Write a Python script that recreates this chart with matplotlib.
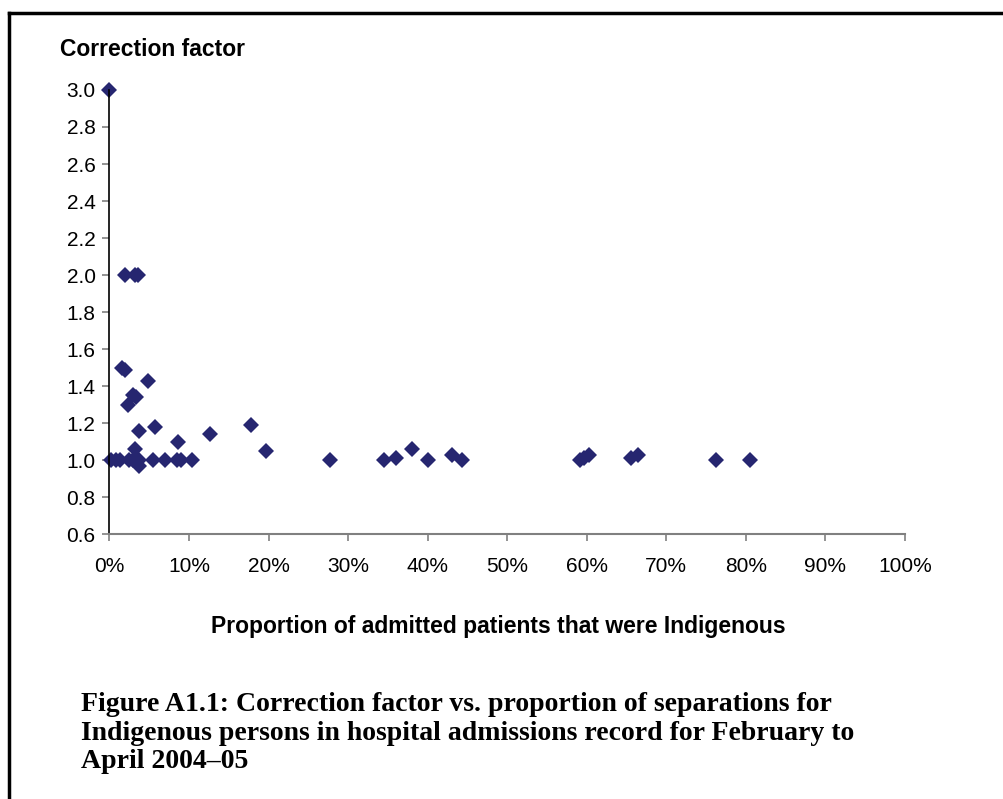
import matplotlib.pyplot as plt
from matplotlib.lines import Line2D
from matplotlib.ticker import FuncFormatter

# proportion of admitted patients that were Indigenous (%)
prop_pct = [0.0, 1.9, 3.2, 3.6, 1.6, 2.0, 4.9, 2.3, 2.9, 3.4, 3.7, 5.7, 8.6, 12.6,
            17.8, 19.7, 3.2, 3.7,
            0.2, 0.8, 1.3, 2.4, 2.9, 3.3, 3.7, 5.5, 7.0, 8.5, 9.0, 10.4,
            27.7, 34.5, 36.0, 38.0, 40.0, 43.0, 44.3, 59.2, 59.7, 60.3,
            65.6, 66.5, 76.3, 80.5]
# correction factor
factor = [3.0, 2.0, 2.0, 2.0, 1.5, 1.49, 1.43, 1.30, 1.35, 1.34, 1.16, 1.18, 1.10, 1.14,
          1.19, 1.05, 1.06, 0.97,
          1.0, 1.0, 1.0, 1.0, 1.0, 1.0, 1.0, 1.0, 1.0, 1.0, 1.0, 1.0,
          1.0, 1.0, 1.01, 1.06, 1.0, 1.03, 1.0, 1.0, 1.01, 1.03,
          1.01, 1.03, 1.0, 1.0]

yticks = [0.6, 0.8, 1.0, 1.2, 1.4, 1.6, 1.8, 2.0, 2.2, 2.4, 2.6, 2.8, 3.0]
xticks = [0, 10, 20, 30, 40, 50, 60, 70, 80, 90, 100]

plt.rcParams['font.family'] = ['Liberation Sans', 'DejaVu Sans']

fig = plt.figure(figsize=(10.04, 7.99), dpi=100)
ax = fig.add_axes([0.109, 0.3313, 0.7924, 0.5561])

ax.plot(prop_pct, factor, linestyle='none', marker='D', markersize=7.8,
        color='#262670', markeredgewidth=0, clip_on=False)

ax.set_xlim(0, 100)
ax.set_ylim(0.6, 3.0)
ax.set_xticks(xticks)
ax.set_yticks(yticks)
ax.xaxis.set_major_formatter(FuncFormatter(lambda v, p: '%d%%' % v))
ax.yaxis.set_major_formatter(FuncFormatter(lambda v, p: '%.1f' % v))

for s in ['top', 'right']:
    ax.spines[s].set_visible(False)
ax.spines['left'].set_color('black')
ax.spines['left'].set_linewidth(1.2)
ax.spines['bottom'].set_color('#808080')
ax.spines['bottom'].set_linewidth(1.5)
ax.tick_params(axis='both', direction='out', length=5, width=1.2, color='#808080',
               labelsize=15, labelcolor='black')
ax.tick_params(axis='x', pad=11)
ax.tick_params(axis='y', pad=5)

fig.text(0.06, 0.938, 'Correction factor', fontsize=16.5, fontweight='bold', va='center')
fig.text(0.496, 0.2153, 'Proportion of admitted patients that were Indigenous',
         fontsize=16.5, fontweight='bold', ha='center', va='center')

caption = ('Figure A1.1: Correction factor vs. proportion of separations for\n'
           'Indigenous persons in hospital admissions record for February to\n'
           'April 2004\u201305')
fig.text(0.081, 0.0826, caption, fontsize=20, fontweight='bold',
         family=['Liberation Serif', 'DejaVu Serif'], va='center', linespacing=1.17)

# frame round the figure (top and left edges visible)
fig.add_artist(Line2D([0.009, 1.0], [0.984, 0.984], color='black', linewidth=2.5,
                      transform=fig.transFigure))
fig.add_artist(Line2D([0.009, 0.009], [0.0, 0.984], color='black', linewidth=2.5,
                      transform=fig.transFigure))

fig.savefig('out.png', dpi=100)
